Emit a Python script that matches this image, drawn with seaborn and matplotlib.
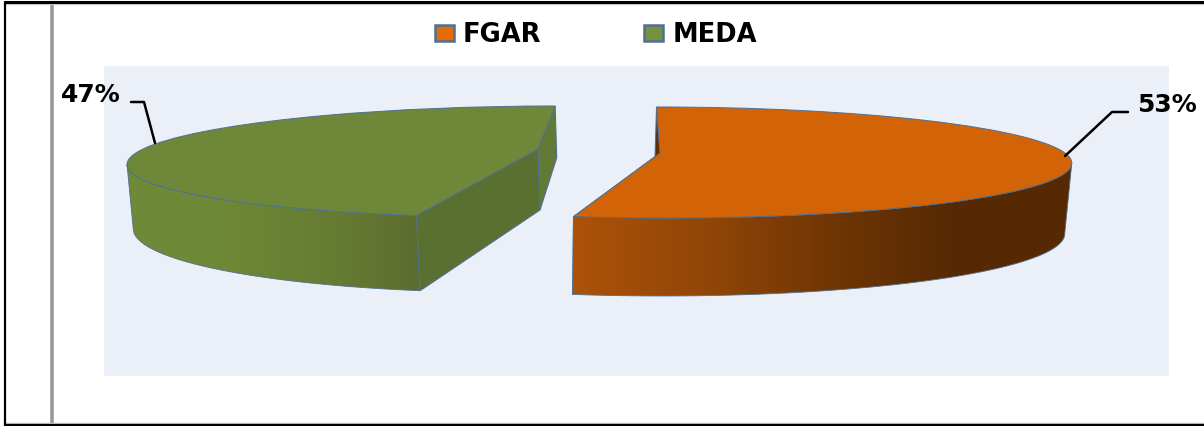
import numpy as np
import matplotlib
matplotlib.use("Agg")
import matplotlib.pyplot as plt
import matplotlib.transforms as mtransforms
from matplotlib.colors import LinearSegmentedColormap
from matplotlib.patches import Patch, Polygon, Rectangle
import seaborn as sns

categories = ["FGAR", "MEDA"]
values = [53, 47]
top_colors = ["#D26407", "#6F8739"]
wall_colors = [[(0, "#AC520A"), (0.28, "#8F4507"), (0.56, "#6B3304"), (0.76, "#572903"), (1, "#572903")],
               [(0, "#6F8A37"), (0.3, "#6E8937"), (0.7, "#667C33"), (1, "#5D6C2F")]]
inner_colors = [["#5E2C03", "#5E2C03"], ["#5A7030", "#617A35"]]
edge_color = "#4F7092"

sns.set_theme(style="white")
plt.rcParams["font.family"] = ["DejaVu Sans"]

W, H = 1204, 426
fig = plt.figure(figsize=(W / 100, H / 100), dpi=100, facecolor="white")
ax = fig.add_axes([0, 0, 1, 1])


class Persp(mtransforms.Transform):
    """Projects the unit pie disc into pixels with a perspective tilt."""
    input_dims = output_dims = 2
    is_separable = False
    has_inverse = False

    def __init__(self, cx, cy, a, b, p, s):
        super().__init__()
        self.params = (cx, cy, a, b, p, s)

    def transform_non_affine(self, xy):
        xy = np.asarray(xy, dtype=float)
        cx, cy, a, b, p, s = self.params
        u, v = xy[:, 0], xy[:, 1]
        w = 1 + p * v
        return np.column_stack([cx + (a * u + s * v) / w, cy - b * v / w])


top_proj = [Persp(660, 153, 405, 53.9, 0.171, -4), Persp(538, 149, 395, 52.7, 0.225, 21)]
bot_proj = [Persp(658, 222.4, 400, 61, 0.171, -4), Persp(540, 210, 391, 64, 0.225, 20.5)]

wedges, _ = ax.pie(values, startangle=90, counterclock=False, colors=top_colors,
                   wedgeprops=dict(edgecolor=edge_color, linewidth=0.7))


def rim(proj, deg):
    t = np.radians(deg)
    return proj.transform_non_affine(np.column_stack([np.cos(t), np.sin(t)]))


for i, w in enumerate(wedges):
    w.set_transform(top_proj[i] + ax.transData)
    w.set_zorder(5)
    w.set_clip_on(False)
    centre_t = top_proj[i].transform_non_affine(np.array([[0.0, 0.0]]))[0]
    centre_b = bot_proj[i].transform_non_affine(np.array([[0.0, 0.0]]))[0]

    # outer wall between the front corner and the silhouette extreme
    front = min(w.theta1, w.theta2) if i == 0 else max(w.theta1, w.theta2)
    sweep = np.linspace(w.theta1, w.theta2, 500)
    xs = rim(top_proj[i], sweep)[:, 0]
    extreme = sweep[np.argmax(xs)] if i == 0 else sweep[np.argmin(xs)]
    arc = np.linspace(front, extreme, 200)
    poly = np.vstack([rim(top_proj[i], arc), rim(bot_proj[i], arc)[::-1]])
    wall = Polygon(poly, closed=True, facecolor="none", edgecolor=edge_color, lw=0.6, zorder=3)
    ax.add_patch(wall)
    cmap = LinearSegmentedColormap.from_list(f"wall{i}", wall_colors[i])
    x0, x1 = poly[:, 0].min(), poly[:, 0].max()
    y0, y1 = poly[:, 1].min(), poly[:, 1].max()
    im = ax.imshow(np.linspace(0, 1, 256)[None, :], cmap=cmap, aspect="auto",
                   extent=(x0, x1, y1, y0), zorder=2)
    im.set_clip_path(wall)

    # cut faces of the slice
    for j, ang in enumerate([w.theta2 if i == 1 else w.theta1, w.theta1 if i == 1 else w.theta2]):
        c_t = rim(top_proj[i], np.array([ang]))[0]
        c_b = rim(bot_proj[i], np.array([ang]))[0]
        ax.add_patch(Polygon([centre_t, c_t, c_b, centre_b], closed=True,
                             facecolor=inner_colors[i][j], edgecolor=edge_color, lw=0.8,
                             zorder=4 if i == 1 else 1.5))

# plot area and frame
ax.add_patch(Rectangle((104, 66), 1065, 310, facecolor="#EBF0F8", edgecolor="none", zorder=0.5))
ax.plot([4.5, 1204], [1.5, 1.5], color="black", lw=2.2, zorder=6)
ax.plot([4.5, 4.5], [1.5, 426], color="black", lw=1.6, zorder=6)
ax.plot([4.5, 1204], [425, 425], color="black", lw=2.2, zorder=6)
ax.plot([51.5, 51.5], [3, 424], color="#999999", lw=2.6, zorder=1)
ax.plot([6, 1204], [3.6, 3.6], color="#CCCCCC", lw=1, zorder=1)
ax.plot([6, 1204], [423, 423], color="#BBBBBB", lw=1, zorder=1)

# data labels with leader lines
ax.plot([1065, 1112, 1128], [156, 112, 112], color="black", lw=1.8, zorder=6)
ax.plot([131, 144, 155], [102, 102, 143], color="black", lw=1.8, zorder=6)
ax.text(1167, 105, f"{values[0]}%", fontsize=18, fontweight="bold", color="black",
        ha="center", va="center", zorder=7)
ax.text(91, 95, f"{values[1]}%", fontsize=18, fontweight="bold", color="black",
        ha="center", va="center", zorder=7)

handles = [Patch(facecolor=c, edgecolor=edge_color, lw=1.8) for c in ["#E36C09", "#76923C"]]
ax.legend(handles, categories, loc="center", bbox_to_anchor=(596 / W, 1 - 35 / H),
          ncol=2, frameon=False, prop=dict(size=18.5, weight="bold"), labelcolor="black",
          handlelength=0.74, handleheight=0.55, handletextpad=0.36, columnspacing=4.0)

ax.set_aspect("auto")
ax.set_xlim(0, W)
ax.set_ylim(H, 0)
ax.axis("off")
fig.savefig("out.png", dpi=100, facecolor="white")
